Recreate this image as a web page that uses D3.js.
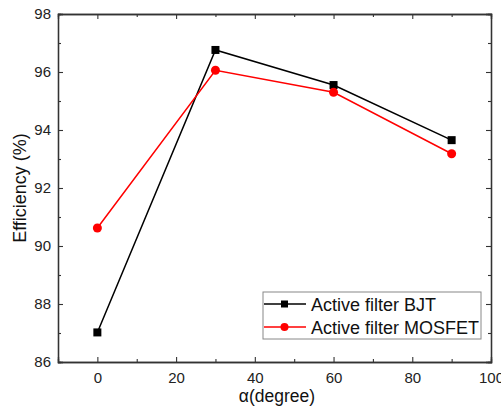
<!DOCTYPE html>
<html><head><meta charset="utf-8">
<script src="https://cdn.jsdelivr.net/npm/d3@7"></script>
<style>body{margin:0;background:#fff}svg{display:block;font-family:"Liberation Sans",Arial,sans-serif}</style>
</head><body><svg id="c" width="501" height="408"></svg>
<script>
const angles = [0, 30, 60, 90];
const bjt = [87.02, 96.76, 95.55, 93.65];
const mosfet = [90.62, 96.06, 95.3, 93.18];
const seriesNames = ["Active filter BJT", "Active filter MOSFET"];
const seriesColors = ["#000000", "#ff0000"];
const xTicks = [0, 20, 40, 60, 80, 100];
const yTicks = [86, 88, 90, 92, 94, 96, 98];

const svg = d3.select("#c");
const L = 58, R = 491, T = 14, B = 362;
const x = d3.scaleLinear().domain([-10, 100]).range([L, R]);
const y = d3.scaleLinear().domain([86, 98]).range([B, T]);

const g = svg.append("g");
const tk = 5, tkm = 3;
g.append("g").attr("transform", `translate(0,${B})`)
  .call(d3.axisBottom(x).tickValues(xTicks).tickSize(-tk).tickPadding(10).tickFormat(d3.format("d")));
g.append("g").attr("transform", `translate(0,${B})`)
  .call(d3.axisBottom(x).tickValues(d3.range(10, 100, 20)).tickSize(-tkm).tickFormat(""));
g.append("g").attr("transform", `translate(0,${T})`)
  .call(d3.axisTop(x).tickValues(xTicks).tickSize(-tk).tickFormat(""));
g.append("g").attr("transform", `translate(0,${T})`)
  .call(d3.axisTop(x).tickValues(d3.range(10, 100, 20)).tickSize(-tkm).tickFormat(""));
g.append("g").attr("transform", `translate(${L},0)`)
  .call(d3.axisLeft(y).tickValues(yTicks).tickSize(-tk).tickPadding(7).tickFormat(d3.format("d")));
g.append("g").attr("transform", `translate(${L},0)`)
  .call(d3.axisLeft(y).tickValues(d3.range(87, 98, 2)).tickSize(-tkm).tickFormat(""));
g.append("g").attr("transform", `translate(${R},0)`)
  .call(d3.axisRight(y).tickValues(yTicks).tickSize(-tk).tickFormat(""));
g.append("g").attr("transform", `translate(${R},0)`)
  .call(d3.axisRight(y).tickValues(d3.range(87, 98, 2)).tickSize(-tkm).tickFormat(""));
g.selectAll(".domain").attr("stroke", "#333").attr("stroke-width", 1.3);
g.selectAll(".tick line").attr("stroke", "#333").attr("stroke-width", 1.1);
g.selectAll(".tick text").attr("font-size", 15).attr("fill", "#222").attr("font-family", '"Liberation Sans",Arial,sans-serif');

const line = d3.line().x((d, i) => x(angles[i])).y(d => y(d));
[bjt, mosfet].forEach((s, k) => {
  svg.append("path").attr("d", line(s)).attr("fill", "none")
    .attr("stroke", seriesColors[k]).attr("stroke-width", 1.5);
});
svg.selectAll(".sq").data(bjt).enter().append("rect")
  .attr("x", (d, i) => x(angles[i]) - 4).attr("y", d => y(d) - 4)
  .attr("width", 8).attr("height", 8).attr("fill", "#000");
svg.selectAll(".ci").data(mosfet).enter().append("circle")
  .attr("cx", (d, i) => x(angles[i])).attr("cy", d => y(d)).attr("r", 4.5).attr("fill", "#ff0000");

// legend
const lg = svg.append("g");
lg.append("rect").attr("x", 263).attr("y", 292).attr("width", 218).attr("height", 47)
  .attr("fill", "#fff").attr("stroke", "#888").attr("stroke-width", 1);
seriesNames.forEach((n, k) => {
  const yy = 304 + k * 23;
  lg.append("line").attr("x1", 264).attr("x2", 306).attr("y1", yy).attr("y2", yy)
    .attr("stroke", seriesColors[k]).attr("stroke-width", 1.5);
  if (k === 0) lg.append("rect").attr("x", 281).attr("y", yy - 3.5).attr("width", 7).attr("height", 7).attr("fill", "#000");
  else lg.append("circle").attr("cx", 284.5).attr("cy", yy).attr("r", 4).attr("fill", "#ff0000");
  lg.append("text").attr("x", 311).attr("y", yy + 6.5).attr("font-size", 18).attr("fill", "#111").text(n);
});

svg.append("text").attr("x", 277).attr("y", 402).attr("text-anchor", "middle")
  .attr("font-size", 17.5).attr("fill", "#111").text("α(degree)");
svg.append("text").attr("transform", "translate(26,188) rotate(-90)").attr("text-anchor", "middle")
  .attr("font-size", 18).attr("fill", "#111").text("Efficiency (%)");
</script></body></html>
